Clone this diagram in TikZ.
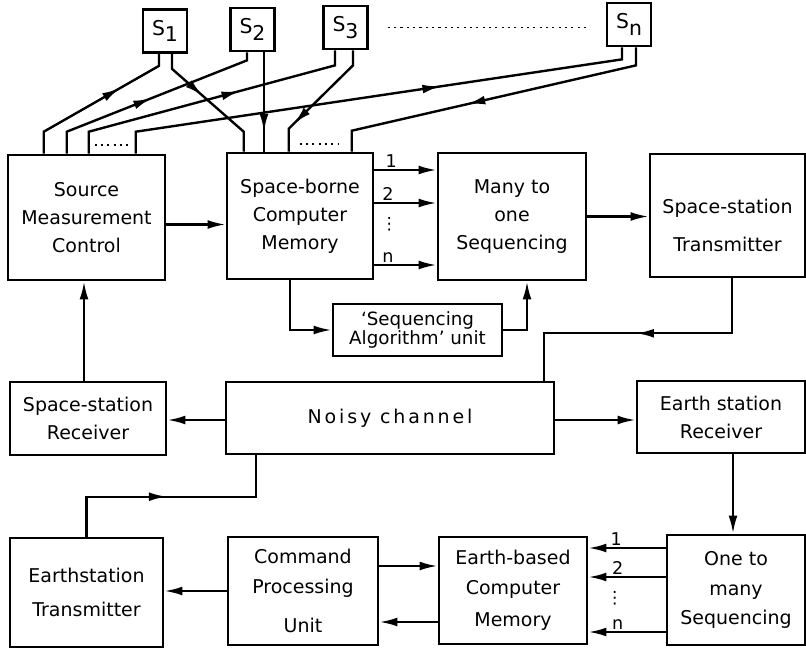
\documentclass[tikz,border=0pt]{standalone}
\usepackage{fontspec}
\setmainfont{DejaVu Sans}
\usepackage{tikz}
\usetikzlibrary{arrows.meta,positioning,calc,decorations.markings}
\newcommand{\sidx}[1]{\raisebox{-0.6ex}{#1}}

\begin{document}
\begin{tikzpicture}[x=0.025cm,y=-0.025cm,
  box/.style={rectangle,draw=black,line width=1.8pt,align=center,inner sep=2pt,
    font=\fontsize{13.5}{20}\selectfont},
  sbox/.style={box,minimum width=1.1cm,minimum height=1.08cm,font=\fontsize{14.5}{15}\selectfont},
  wire/.style={line width=1.7pt},
  arr/.style={wire,-{Latex[length=4.5mm,width=2.2mm]}},
  midarr/.style={postaction={decorate},decoration={markings,
    mark=at position #1 with {\arrow{Latex[length=4.5mm,width=2.2mm]}}}},
  lbl/.style={inner sep=1pt,font=\fontsize{12.5}{12}\selectfont},
  vdot/.style={inner sep=0pt,font=\fontsize{12}{12}\selectfont},
  gap/.style={line width=1.2pt,dash pattern=on 1.5pt off 3pt},
]
  \useasboundingbox (0,0) rectangle (806,649);
  \fill[white] (0,0) rectangle (806,649);

  % sources
  \node[sbox] (s1) at (165,31) {S\sidx{1}};
  \node[sbox] (s2) at (252.5,29.5) {S\sidx{2}};
  \node[sbox] (s3) at (345.5,27.5) {S\sidx{3}};
  \node[sbox] (sn) at (629,24.5) {S\sidx{n}};
  \draw[gap,shorten >=4.25mm] ($(s3.east)+(19,0)$) coordinate (a) -- (a -| sn.west);

  % space segment
  \node[box,minimum width=3.925cm,minimum height=3.125cm] (ctrl) at (86.5,217.5) {Source\\Measurement\\Control};
  \node[box,minimum width=3.65cm,minimum height=3.15cm] (mem) at (300,216) {Space-borne\\Computer\\Memory};
  \node[box,minimum width=3.7cm,minimum height=3.175cm] (mto) at (512,216.5) {Many to\\one\\Sequencing};
  \node[box,minimum width=3.875cm,minimum height=3.075cm] (sstx) at (727.5,215.5) {\rule{0pt}{24pt}Space-station\\[7pt]Transmitter};
  \node[box,minimum width=4.225cm,minimum height=1.3cm,font=\fontsize{13}{14}\selectfont] (alg) at (417.5,330) {`Sequencing\\Algorithm' unit};

  % channel
  \node[box,minimum width=3.9cm,minimum height=1.825cm] (ssrx) at (88,418.5) {Space-station\\Receiver};
  \node[box,minimum width=8.2cm,minimum height=1.8cm] (chan) at (390,418) {\addfontfeatures{LetterSpace=15}Noisy channel};
  \node[box,minimum width=4.2cm,minimum height=1.8cm] (esrx) at (721,417) {Earth station\\Receiver};

  % ground segment
  \node[box,minimum width=3.825cm,minimum height=2.725cm] (estx) at (86.5,592.5) {Earthstation\\[4pt]Transmitter};
  \node[box,minimum width=3.75cm,minimum height=2.7cm] (cpu) at (303,591) {Command\\[1pt]Processing\\[8pt]Unit};
  \node[box,minimum width=3.7cm,minimum height=2.675cm] (ebm) at (513,590.5) {Earth-based\\[1pt]Computer\\[3pt]Memory};
  \node[box,minimum width=3.45cm,minimum height=2.75cm] (otm) at (736,590) {One to\\[1pt]many\\[1pt]Sequencing};

  % control lines out to the sources
  \draw[wire,midarr=0.66] ($(ctrl.north west)+(37,0)$) -- ++(0,-22) -- ($(s1.south)+(-6,12)$) -- ($(s1.south)+(-6,0)$);
  \draw[wire,midarr=0.505] ($(ctrl.north west)+(60,0)$) -- ++(0,-22) -- ($(s2.south)+(-5.5,8)$) -- ($(s2.south)+(-5.5,0)$);
  \draw[wire,midarr=0.61] ($(ctrl.north west)+(82,0)$) -- ++(0,-22) -- ($(s3.south)+(-10.5,15)$) -- ($(s3.south)+(-10.5,0)$);
  \draw[wire,midarr=0.628] ($(ctrl.north west)+(129,0)$) -- ++(0,-22) -- ($(sn.south)+(-7,12)$) -- ($(sn.south)+(-7,0)$);
  \draw[gap] ($(ctrl.north west)+(88,-9)$) -- ++(33,0);

  % data lines into memory
  \draw[wire,midarr=0.426] ($(s1.south)+(7,0)$) -- ++(0,15) -- ($(mem.north west)+(18,-20)$) -- ($(mem.north west)+(18,0)$);
  \draw[wire,midarr=0.8] ($(s2.south)+(11.5,0)$) coordinate (a) -- (a |- mem.north);
  \draw[wire,midarr=0.765] ($(s3.south)+(7.5,0)$) -- ++(0,15) -- ($(mem.north west)+(63,-23)$) -- ($(mem.north west)+(63,0)$);
  \draw[wire,midarr=0.578] ($(sn.south)+(7,0)$) -- ++(0,18) -- ($(mem.north west)+(126,-21)$) -- ($(mem.north west)+(126,0)$);
  \draw[gap] ($(mem.north west)+(74,-8)$) -- ++(38,0);

  \draw[arr] ($(ctrl.east)+(0,7)$) coordinate (a) -- (a -| mem.west);
  \draw[arr] ($(mem.east)+(0,-46)$) coordinate (a) -- node[lbl,above,pos=0.27] (m1) {1} (a -| mto.west);
  \draw[arr] ($(mem.east)+(0,-13)$) coordinate (a) -- node[lbl,above,pos=0.22] (m2) {2} (a -| mto.west);
  \draw[arr] ($(mem.east)+(0,49)$) coordinate (a) -- node[lbl,above,pos=0.22] (mn) {n} (a -| mto.west);
  \node[vdot] (mdots) at ($(mem.east)+(15,8)$) {⋮};
  \draw[arr] (mto.east) -- (mto.east -| sstx.west);
  \draw[arr] ($(mem.south)+(-10,0)$) |- (alg.west);
  \draw[arr] (alg.east) -| ($(mto.south)+(15,0)$);

  % up and down through the channel
  \draw[wire,midarr=0.52] ($(sstx.south)+(4.5,0)$) -- ++(0,55) -| ($(chan.north)+(154,0)$);
  \draw[arr] ($(chan.west)+(0,2)$) coordinate (a) -- (a -| ssrx.east);
  \draw[arr] ($(chan.east)+(0,2)$) coordinate (a) -- (a -| esrx.west);
  \draw[arr] ($(ssrx.north)+(-4,0)$) coordinate (a) -- (a |- ctrl.south);
  \draw[wire,midarr=0.48] (estx.north) -- ++(0,-40) -| ($(chan.south)+(-134,0)$);
  \draw[arr] ($(esrx.south)+(12,0)$) coordinate (a) -- (a |- otm.north);

  \draw[arr] ($(otm.west)+(0,-42)$) coordinate (a) -- node[lbl,above,pos=0.64] (e1) {1} (a -| ebm.east);
  \draw[arr] ($(otm.west)+(0,-13)$) coordinate (a) -- node[lbl,above,pos=0.62] (e2) {2} (a -| ebm.east);
  \draw[arr] ($(otm.west)+(0,42)$) coordinate (a) -- node[lbl,above,pos=0.62] (en) {n} (a -| ebm.east);
  \node[vdot] (edots) at ($(otm.west)+(-51,8)$) {⋮};
  \draw[arr] ($(cpu.east)+(0,-25)$) coordinate (a) -- (a -| ebm.west);
  \draw[arr] ($(ebm.west)+(0,31.5)$) coordinate (a) -- (a -| cpu.east);
  \draw[arr] (cpu.west) -- (cpu.west -| estx.east);
\end{tikzpicture}
\end{document}
